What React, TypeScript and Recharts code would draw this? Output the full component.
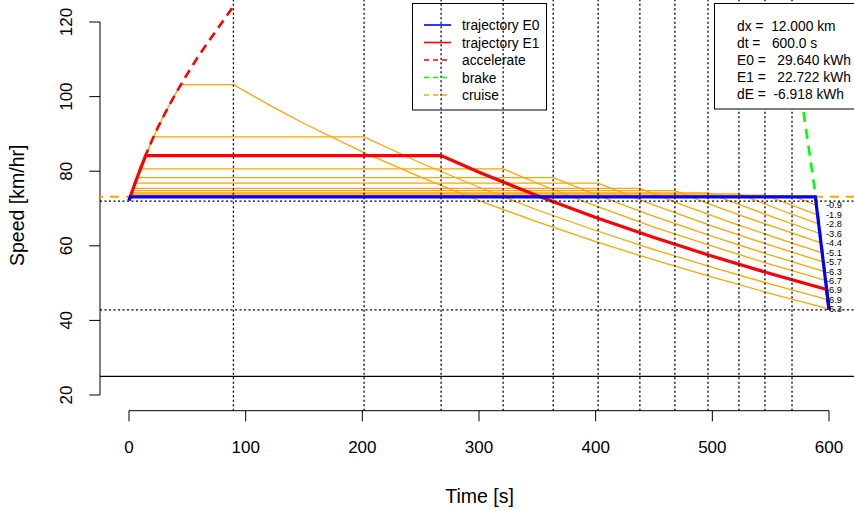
import React from "react";
import { ComposedChart, Line, XAxis, YAxis, ReferenceLine, Scatter } from "recharts";

const FONT = "'Liberation Sans', Arial, Helvetica, sans-serif";

// ---- axes ----
const timeTicks = [0, 100, 200, 300, 400, 500, 600];
const speedTicks = [20, 40, 60, 80, 100, 120];
const timeDomain: [number, number] = [-24.86, 621.43];
const speedDomain: [number, number] = [15.79, 125.9];

// ---- accelerate curve (red dashed) ----
const accelT = [0, 5, 10, 15, 20, 25, 30, 35, 40, 45, 50, 55, 60, 70, 80, 89.5];
const accelV = [72.2, 76.6, 80.8, 84.8, 88.5, 91.9, 95.0, 98.0, 100.8, 103.5, 106.1, 108.6, 111.1, 115.6, 120.0, 124.2];

// ---- brake curve (green dashed) ----
const brakeT = [572, 578, 588.6, 594.3, 600];
const brakeV = [109.4, 96.2, 73.3, 58.6, 43.2];

// ---- trajectory E0 (blue) ----
const e0T = [0, 1.2, 588.3, 594, 600];
const e0V = [72.2, 73.1, 73.1, 58.5, 43.0];

// ---- cruise reference (orange dashed) ----
const cruiseRefT = [-30, 630];
const cruiseRefV = [73.15, 73.15];

// ---- reference levels ----
const avgSpeed = 72.0;
const minSpeed = 42.8;
const floorSpeed = 25;
const tripEnd = 600;

// ---- candidate trajectories (orange) ----
const cruiseV = [103.2, 89.2, 84.2, 80.6, 78.3, 76.8, 75.4, 74.8, 74.2, 73.9, 73.6, 73.4];
const cruiseStartT = [44.3, 21.0, 14.3, 9.8, 7.1, 5.3, 3.7, 3.0, 2.3, 1.9, 1.6, 1.4];
const cruiseEndT = [89.5, 201.5, 267.5, 320.7, 363.6, 402.1, 437.9, 467.9, 496.3, 522.8, 545.1, 568.3];

const coast1 = [[120, 97.8], [150, 92.8], [200, 85.2], [250, 78.4], [300, 72.1], [350, 66.4], [400, 61.1], [450, 56.2], [500, 51.6], [550, 47.2], [599.9, 43.1]];
const coast2 = [[250, 82.2], [300, 75.7], [350, 69.6], [400, 64.1], [450, 59.0], [500, 54.2], [550, 49.7], [598.8, 45.6]];
const coast3 = [[300, 79.7], [350, 73.4], [400, 67.6], [450, 62.2], [500, 57.2], [550, 52.5], [598, 48.3]];
const coast4 = [[360, 75.5], [400, 70.7], [450, 65.0], [500, 59.9], [550, 55.0], [597, 50.7]];
const coast5 = [[400, 73.7], [450, 67.9], [500, 62.5], [550, 57.5], [596.1, 53.1]];
const coast6 = [[450, 70.9], [500, 65.3], [550, 60.1], [594.9, 55.7]];
const coast7 = [[480, 70.3], [520, 65.8], [560, 61.6], [594.1, 58.1]];
const coast8 = [[500, 70.9], [530, 67.5], [593.1, 60.8]];
const coast9 = [[545, 68.5], [592, 63.3]];
const coast10 = [[560, 69.4], [591.1, 65.9]];
const coast11 = [[590.2, 68.3]];
const coast12 = [[589.2, 70.9]];
const coasts = [coast1, coast2, coast3, coast4, coast5, coast6, coast7, coast8, coast9, coast10, coast11, coast12];
const endLabels = ["-6.3", "-6.9", "-6.9", "-6.7", "-6.3", "-5.7", "-5.1", "-4.4", "-3.6", "-2.8", "-1.9", "-0.9"];
const chosenIndex = 2;

// ---- info box ----
const infoLines = ["dx =  12.000 km", "dt =   600.0 s", "E0 =   29.640 kWh", "E1 =   22.722 kWh", "dE =  -6.918 kWh"];

// ---- legend ----
const legendItems = [
  { name: "trajectory E0", color: "#0000FF", dash: "" },
  { name: "trajectory E1", color: "#FF0000", dash: "" },
  { name: "accelerate", color: "#FF0000", dash: "5 4" },
  { name: "brake", color: "#00FF00", dash: "5 4" },
  { name: "cruise", color: "#FFA500", dash: "5 4" },
];

// ---- build series ----
const zip = (ts: number[], vs: number[]) => ts.map((t, i) => ({ t, v: vs[i] }));
const accelData = zip(accelT, accelV);
const brakeData = zip(brakeT, brakeV);
const e0Data = zip(e0T, e0V);
const cruiseRefData = zip(cruiseRefT, cruiseRefV);

const orangePaths = cruiseV.map((cv, i) => {
  const pts: { t: number; v: number }[] = [];
  accelT.forEach((t, j) => {
    if (t < cruiseStartT[i]) pts.push({ t, v: accelV[j] });
  });
  pts.push({ t: cruiseStartT[i], v: cv });
  pts.push({ t: cruiseEndT[i], v: cv });
  coasts[i].forEach(([t, v]) => pts.push({ t, v }));
  return pts;
});
const e1Data = [...orangePaths[chosenIndex], { t: tripEnd, v: e0V[e0V.length - 1] }];
const labelData = coasts.map((c, i) => ({ t: tripEnd, v: c[c.length - 1][1], label: endLabels[i] }));

const XTick = (props: any) => {
  const { x, y, payload } = props;
  return (
    <text x={x} y={y + 32} textAnchor="middle" fontSize={17} fontFamily={FONT} fill="#000">
      {payload.value}
    </text>
  );
};

const YTick = (props: any) => {
  const { x, y, payload } = props;
  const bx = x - 17.3;
  return (
    <text x={bx} y={y} transform={`rotate(-90 ${bx} ${y})`} textAnchor="middle" fontSize={17} fontFamily={FONT} fill="#000">
      {payload.value}
    </text>
  );
};

const EndLabel = (props: any) => {
  const { cx, cy, payload } = props;
  return (
    <text x={cx - 3} y={cy + 3.2} fontSize={9.2} fontFamily={FONT} fill="#000">
      {payload.label}
    </text>
  );
};

export default function App() {
  return (
    <div style={{ position: "absolute", left: 0, top: 0, width: 854, height: 511, background: "#fff" }}>
      <ComposedChart width={854} height={511} margin={{ top: 0, right: 0, bottom: 0, left: 0 }}>
        <XAxis
          type="number"
          dataKey="t"
          domain={timeDomain}
          allowDataOverflow
          ticks={timeTicks}
          interval={0}
          height={100.3}
          axisLine={false}
          tickLine={{ stroke: "#000", strokeWidth: 1 }}
          tickSize={10.7}
          tickMargin={0}
          tick={<XTick />}
        />
        <YAxis
          type="number"
          dataKey="v"
          domain={speedDomain}
          allowDataOverflow
          ticks={speedTicks}
          interval={0}
          width={100}
          axisLine={false}
          tickLine={{ stroke: "#000", strokeWidth: 1 }}
          tickSize={10.7}
          tickMargin={0}
          tick={<YTick />}
        />

        {/* R-style axis lines spanning first to last tick */}
        <ReferenceLine
          segment={[{ x: timeTicks[0], y: speedDomain[0] }, { x: timeTicks[timeTicks.length - 1], y: speedDomain[0] }]}
          stroke="#000"
          strokeWidth={1}
          ifOverflow="visible"
        />
        <ReferenceLine
          segment={[{ x: timeDomain[0], y: speedTicks[0] }, { x: timeDomain[0], y: speedTicks[speedTicks.length - 1] }]}
          stroke="#000"
          strokeWidth={1}
          ifOverflow="visible"
        />

        <ReferenceLine y={floorSpeed} stroke="#000" strokeWidth={1.2} />

        <Line data={cruiseRefData} dataKey="v" stroke="#FFA500" strokeWidth={2.2} strokeDasharray="9 7" dot={false} activeDot={false} isAnimationActive={false} />

        {orangePaths.map((d, i) => (
          <Line key={"o" + i} data={d} dataKey="v" stroke="#FFA500" strokeWidth={1.3} dot={false} activeDot={false} isAnimationActive={false} />
        ))}

        <Line data={e1Data} dataKey="v" stroke="#FF0000" strokeWidth={3.2} dot={false} activeDot={false} isAnimationActive={false} />
        <Line data={accelData} dataKey="v" stroke="#FF0000" strokeWidth={2.6} strokeDasharray="9 6" dot={false} activeDot={false} isAnimationActive={false} />
        <Line data={brakeData} dataKey="v" stroke="#00FF00" strokeWidth={2.6} strokeDasharray="10 7" dot={false} activeDot={false} isAnimationActive={false} />
        <Line data={e0Data} dataKey="v" stroke="#0000FF" strokeWidth={3.2} dot={false} activeDot={false} isAnimationActive={false} />

        <ReferenceLine y={avgSpeed} stroke="#000" strokeWidth={1.3} strokeDasharray="2 2.5" />
        <ReferenceLine y={minSpeed} stroke="#000" strokeWidth={1.3} strokeDasharray="2 2.5" />
        {cruiseEndT.map((t, i) => (
          <ReferenceLine key={"v" + i} x={t} stroke="#000" strokeWidth={1.3} strokeDasharray="2 2.5" />
        ))}

        <Scatter data={labelData} dataKey="v" shape={<EndLabel />} isAnimationActive={false} />
      </ComposedChart>

      <svg width={854} height={511} style={{ position: "absolute", left: 0, top: 0, pointerEvents: "none" }}>
        {/* axis titles */}
        <text x={479.5} y={503} textAnchor="middle" fontSize={19.5} fontFamily={FONT} fill="#000">
          Time [s]
        </text>
        <text x={24} y={205.3} transform="rotate(-90 24 205.3)" textAnchor="middle" fontSize={19.5} fontFamily={FONT} fill="#000">
          Speed [km/hr]
        </text>

        {/* legend */}
        <rect x={412.5} y={3.5} width={134} height={106.5} fill="none" stroke="#000" strokeWidth={1} />
        {legendItems.map((it, i) => {
          const y = 25 + 17.5 * i;
          return (
            <g key={it.name}>
              <line x1={424} x2={451} y1={y} y2={y} stroke={it.color} strokeWidth={1.6} strokeDasharray={it.dash || undefined} />
              <text x={462} y={y + 5} fontSize={13.8} fontFamily={FONT} fill="#000">
                {it.name}
              </text>
            </g>
          );
        })}

        {/* info box */}
        <rect x={714.5} y={3.5} width={150} height={105.5} fill="#fff" stroke="#000" strokeWidth={1} />
        {infoLines.map((s, i) => (
          <text key={i} x={737} y={31 + 17.1 * i} fontSize={13.8} fontFamily={FONT} fill="#000" style={{ whiteSpace: "pre" }}>
            {s}
          </text>
        ))}
      </svg>
    </div>
  );
}
